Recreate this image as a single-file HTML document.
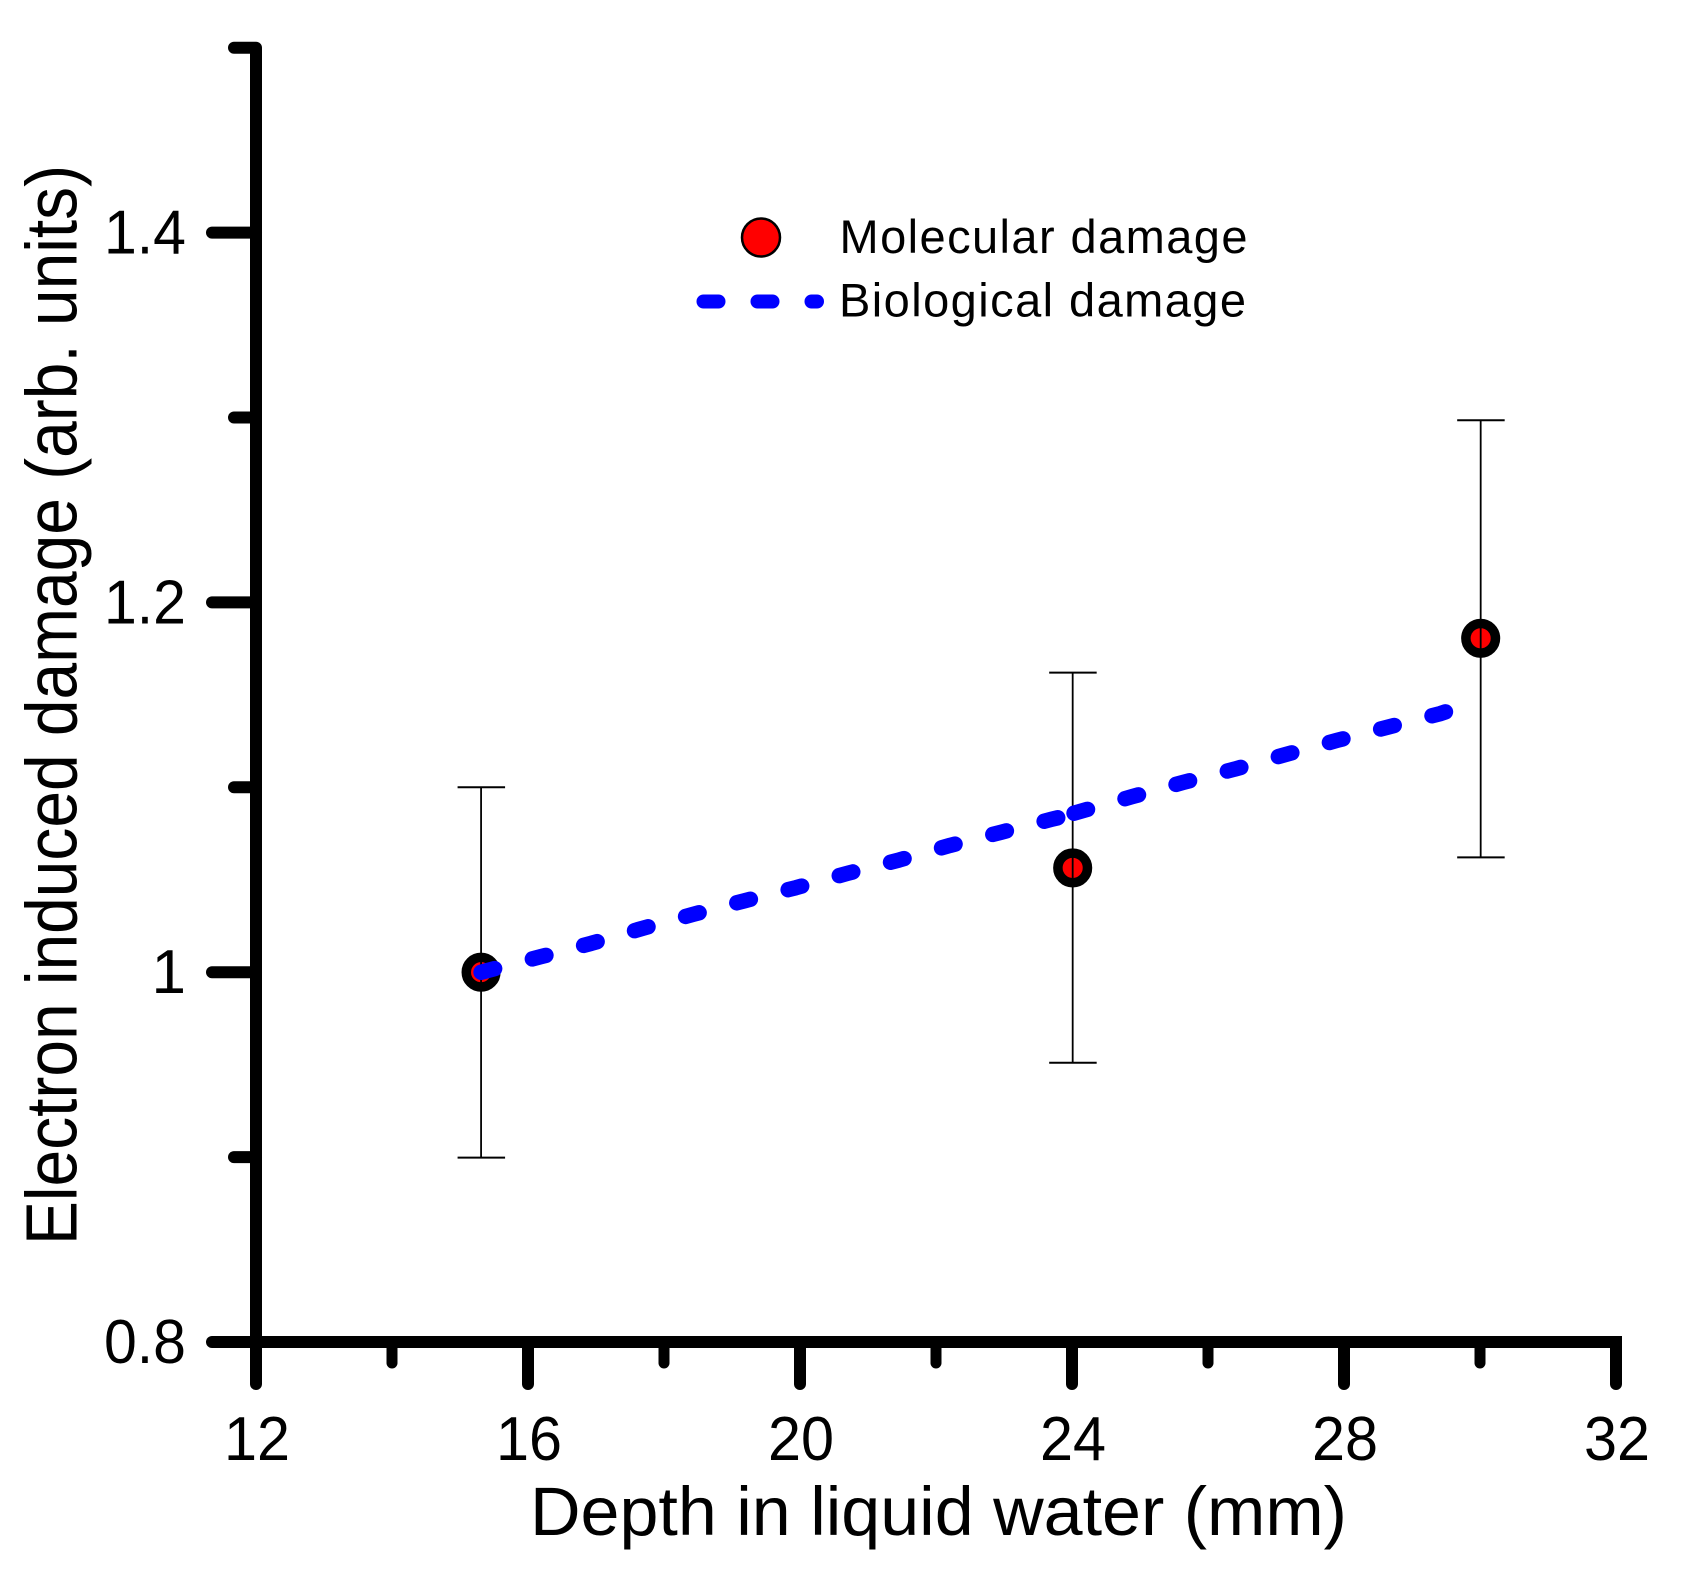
<!DOCTYPE html>
<html lang="en">
<head>
<meta charset="utf-8">
<title>Electron induced damage vs depth</title>
<style>
html,body{margin:0;padding:0;background:#fff;}
svg{display:block;}
text{font-family:"Liberation Sans",Arial,sans-serif;fill:#000;}
</style>
</head>
<body>
<svg id="chart" xmlns="http://www.w3.org/2000/svg" width="1683" height="1569" viewBox="0 0 1683 1569">
  <rect x="0" y="0" width="1683" height="1569" fill="#fff"/>
  <g id="series-layer"></g>
  <g id="axes-layer"></g>
  <text x="530" y="1535" font-size="69" textLength="817" lengthAdjust="spacingAndGlyphs">Depth in liquid water (mm)</text>
  <text transform="translate(76.5 1245) rotate(-90)" x="0" y="0" font-size="72" textLength="1080" lengthAdjust="spacingAndGlyphs">Electron induced damage (arb. units)</text>
  <g>
    <circle cx="761" cy="237.5" r="19" fill="#ff0000" stroke="#000" stroke-width="2.5"/>
    <text x="839.5" y="253" font-size="47" textLength="408" lengthAdjust="spacing">Molecular damage</text>
    <line x1="703.5" y1="301.5" x2="817" y2="301.5" stroke="#0000ff" stroke-width="14" stroke-linecap="round" stroke-dasharray="15 39"/>
    <text x="839" y="316.5" font-size="47" textLength="407" lengthAdjust="spacing">Biological damage</text>
  </g>
</svg>
<script>
// Axis ticks
const xMajorTicks = [12, 16, 20, 24, 28, 32];
const xMinorTicks = [14, 18, 22, 26, 30];
const yMajorTicks = [0.8, 1.0, 1.2, 1.4];
const yMinorTicks = [0.9, 1.1, 1.3, 1.5];
const yTickLabels = ["0.8", "1", "1.2", "1.4"];

// Molecular damage (points with error bars)
const molecularDepth = [15.31, 24.01, 30.01];
const molecularDamage = [1.000, 1.0564, 1.1806];
const molecularUpper = [1.100, 1.162, 1.2985];
const molecularLower = [0.8997, 0.951, 1.0621];

// Biological damage (dashed curve; redrawn from its own start at 24 mm)
const biologicalDepth = [15.31, 16.19, 16.93, 17.68, 18.43, 19.18, 19.94, 20.70, 21.46, 22.21, 22.96, 23.70, 23.90, 24.03, 24.88, 25.64, 26.39, 27.12, 27.90, 28.64, 29.41, 29.50];
const biologicalDamage = [1.000, 1.0084, 1.0156, 1.0237, 1.0313, 1.0386, 1.0457, 1.0535, 1.0607, 1.0686, 1.0757, 1.0827, 1.0845, 1.0860, 1.0949, 1.1027, 1.1098, 1.1175, 1.1254, 1.1325, 1.1398, 1.1409];
const biologicalBreakDepth = 24;

function xScale(v) { return 256 + (v - 12) * 68; }
function yScale(v) { return 1342 - (v - 0.8) * 1849; }

const NS = "http://www.w3.org/2000/svg";
const axesLayer = document.getElementById("axes-layer");
const seriesLayer = document.getElementById("series-layer");

function make(tag, attrs, parent) {
  const el = document.createElementNS(NS, tag);
  for (const k in attrs) el.setAttribute(k, attrs[k]);
  parent.appendChild(el);
  return el;
}

// Markers
molecularDepth.forEach(function (d, i) {
  const m = make("circle", { cx: xScale(d), cy: yScale(molecularDamage[i]), r: 14.8, fill: "#ff0000", stroke: "#000", "stroke-width": 9.5 }, seriesLayer);
  
  
});

// Error bars
molecularDepth.forEach(function (d, i) {
  const x = xScale(d);
  const top = yScale(molecularUpper[i]);
  const bottom = yScale(molecularLower[i]);
  const stem = make("line", { x1: x, y1: top, x2: x, y2: bottom, stroke: "#000", "stroke-width": 1.8 }, seriesLayer);
  
  
  const capTop = make("line", { x1: x - 23.5, y1: top, x2: x + 24, y2: top, stroke: "#000", "stroke-width": 2 }, seriesLayer);
  
  
  const capBottom = make("line", { x1: x - 23.5, y1: bottom, x2: x + 24, y2: bottom, stroke: "#000", "stroke-width": 2 }, seriesLayer);
  
  
});

// Biological curve
function bioPoints(test) {
  const pts = [];
  biologicalDepth.forEach(function (d, i) {
    if (test(d)) pts.push(xScale(d) + "," + yScale(biologicalDamage[i]));
  });
  return pts.join(" ");
}
const bioA = make("polyline", { points: bioPoints(function (d) { return d < biologicalBreakDepth; }), fill: "none", stroke: "#0000ff", "stroke-width": 15.5, "stroke-linecap": "round", "stroke-linejoin": "round", "stroke-dasharray": "14 39" }, seriesLayer);


const bioB = make("polyline", { points: bioPoints(function (d) { return d >= biologicalBreakDepth; }), fill: "none", stroke: "#0000ff", "stroke-width": 15.5, "stroke-linecap": "round", "stroke-linejoin": "round", "stroke-dasharray": "14 39" }, seriesLayer);



// Axis lines
const yAxisLine = make("line", { x1: xScale(12), y1: yScale(1.5), x2: xScale(12), y2: 1342, stroke: "#000", "stroke-width": 12 }, axesLayer);


const xAxisLine = make("line", { x1: xScale(12), y1: 1342, x2: xScale(32) + 6, y2: 1342, stroke: "#000", "stroke-width": 12 }, axesLayer);



// Y ticks
yMajorTicks.forEach(function (v, i) {
  const y = yScale(v);
  const t = make("line", { x1: 256, y1: y, x2: 212, y2: y, stroke: "#000", "stroke-width": 12, "stroke-linecap": "round" }, axesLayer);
  
  
  const l = make("text", { x: 186, y: y + 21, "font-size": 62, "text-anchor": "end" }, axesLayer);
  l.textContent = yTickLabels[i];
  if (yTickLabels[i].length > 1) l.setAttribute("textLength", 82);
  if (yTickLabels[i].length > 1) l.setAttribute("lengthAdjust", "spacingAndGlyphs");
  
  
});
yMinorTicks.forEach(function (v) {
  const y = yScale(v);
  const t = make("line", { x1: 256, y1: y, x2: 234, y2: y, stroke: "#000", "stroke-width": 12, "stroke-linecap": "round" }, axesLayer);
  
  
});

// X ticks
xMajorTicks.forEach(function (v) {
  const x = xScale(v);
  const t = make("line", { x1: x, y1: 1342, x2: x, y2: 1384, stroke: "#000", "stroke-width": 12, "stroke-linecap": "round" }, axesLayer);
  
  
  const l = make("text", { x: x + 1, y: 1460, "font-size": 62, "text-anchor": "middle", textLength: 66, lengthAdjust: "spacingAndGlyphs" }, axesLayer);
  l.textContent = String(v);
  
  
});
xMinorTicks.forEach(function (v) {
  const x = xScale(v);
  const t = make("line", { x1: x, y1: 1342, x2: x, y2: 1363, stroke: "#000", "stroke-width": 11, "stroke-linecap": "round" }, axesLayer);
  
  
});
</script>
</body>
</html>
